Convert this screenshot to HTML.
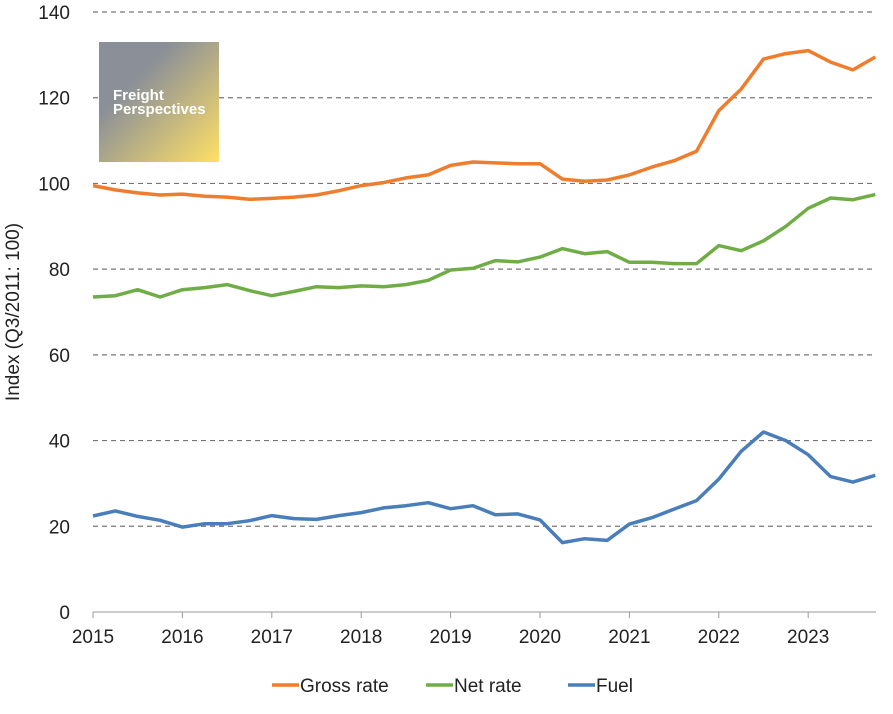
<!DOCTYPE html>
<html><head><meta charset="utf-8"><style>
body{margin:0;background:#fff;font-family:"Liberation Sans",sans-serif}
svg text{font-family:"Liberation Sans",sans-serif;fill:#222}
</style></head><body>
<svg id="chart" width="893" height="709" xmlns="http://www.w3.org/2000/svg">
<defs><linearGradient id="lg" x1="0" y1="0" x2="1" y2="1"><stop offset="0.3" stop-color="#8a8f98"/><stop offset="1" stop-color="#ffe066"/></linearGradient></defs>
<g id="grid"></g>
<g id="axes"></g>
<g id="series"></g>
<g>
<rect x="99" y="42" width="120" height="120" fill="url(#lg)"/>
<text x="113" y="100" font-size="15" font-weight="bold" style="fill:#fff">Freight</text>
<text x="113" y="114" font-size="15" font-weight="bold" style="fill:#fff">Perspectives</text>
</g>
<text transform="translate(19,312) rotate(-90)" text-anchor="middle" font-size="19">Index (Q3/2011: 100)</text>
<g id="legend"></g>
</svg>
<script>
const years=["2015","2016","2017","2018","2019","2020","2021","2022","2023"];
const yTicks=[0,20,40,60,80,100,120,140];
const seriesNames=["Gross rate","Net rate","Fuel"];
const colors=["#ef7d2d","#70ad47","#4a7ebb"];
const gross=[99.5,98.5,97.8,97.3,97.5,97.0,96.8,96.3,96.5,96.8,97.3,98.3,99.5,100.2,101.3,102,104.2,105,104.8,104.6,104.6,101,100.5,100.8,102,103.8,105.3,107.5,117,122,129,130.3,131,128.3,126.5,129.5];
const net=[73.5,73.8,75.2,73.5,75.2,75.7,76.4,75,73.8,74.8,75.9,75.7,76.1,75.9,76.4,77.4,79.8,80.2,82,81.7,82.8,84.8,83.6,84.1,81.6,81.6,81.3,81.3,85.5,84.3,86.6,90,94.2,96.6,96.2,97.4];
const fuel=[22.4,23.6,22.3,21.4,19.8,20.6,20.6,21.3,22.5,21.8,21.6,22.5,23.2,24.3,24.8,25.5,24.1,24.8,22.7,22.9,21.5,16.2,17.1,16.7,20.5,22,24,26,31,37.5,42,40,36.7,31.6,30.3,31.9];
const NS="http://www.w3.org/2000/svg";
const x=t=>93+t*89.4;
const y=v=>612-v*600/140;
function mk(tag,attrs,parent){const e=document.createElementNS(NS,tag);for(const k in attrs)e.setAttribute(k,attrs[k]);parent.appendChild(e);return e;}
const grid=document.getElementById('grid'),axes=document.getElementById('axes'),ser=document.getElementById('series'),leg=document.getElementById('legend');
yTicks.forEach(v=>{
 if(v>0){const l=mk('line',{x1:93,x2:876,y1:y(v),y2:y(v),stroke:'#777','stroke-dasharray':'5,4','stroke-width':1.2},grid);
 
 }
 const t=mk('text',{x:70,y:y(v)+7,'text-anchor':'end','font-size':19},axes);t.textContent=v;
 
 
});
const ax=mk('line',{x1:93,x2:876,y1:y(0),y2:y(0),stroke:'#999','stroke-width':1},axes);


years.forEach((yr,i)=>{
 const tk=mk('line',{x1:x(i),x2:x(i),y1:612,y2:618,stroke:'#999'},axes);
 
 
 const t=mk('text',{x:x(i),y:643,'text-anchor':'middle','font-size':19},axes);t.textContent=yr;
 
 
});
[gross,net,fuel].forEach((d,s)=>{
 const pts=d.map((v,i)=>x(i/4).toFixed(1)+','+y(v).toFixed(1)).join(' ');
 const p=mk('polyline',{points:pts,fill:'none',stroke:colors[s],'stroke-width':3.5,'stroke-linejoin':'round'},ser);
 
 
});
const lx=[272,426,568];
seriesNames.forEach((n,s)=>{
 const l=mk('line',{x1:lx[s],x2:lx[s]+27,y1:685,y2:685,stroke:colors[s],'stroke-width':3.5},leg);
 
 
 const t=mk('text',{x:lx[s]+28,y:692,'font-size':19},leg);t.textContent=n;
 
 
});
</script>
</body></html>
